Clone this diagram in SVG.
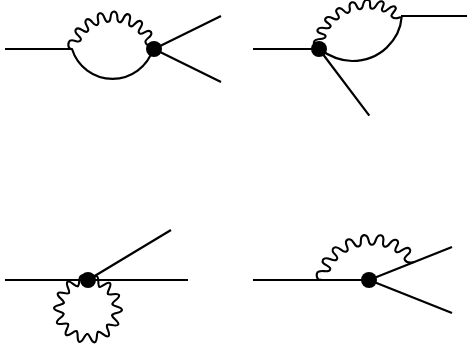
<svg xmlns="http://www.w3.org/2000/svg" width="467" height="351" viewBox="0 0 467 351">
<style>
.l{fill:none;stroke:#000;stroke-width:2.2;vector-effect:non-scaling-stroke}
.w{fill:none;stroke:#000;stroke-width:2.1;stroke-linecap:round;vector-effect:non-scaling-stroke}
.v{fill:#000}
</style>
<defs>
<path id="wave" class="w" d="M72 49C70 49 67.2 47.5 68.8 42.1C71.1 36.9 78.7 44.3 80.6 40.3C83 36.5 72.6 34.1 75.9 29.4C79.6 25.1 84.5 34.5 87.6 31.3C91 28.5 82 22.9 86.5 19.5C91.4 16.6 93.2 27 97.1 24.9C101.2 23.3 94.3 15.2 99.7 13.3C105.2 12.1 103.7 22.6 108 21.8C112.5 21.5 108.5 11.7 114.1 11.5C119.8 12.1 115.1 21.6 119.5 22.2C123.8 23.3 123 12.7 128.4 14.3C133.6 16.6 126.2 24.2 130.2 26.1C134 28.5 136.4 18.1 141.1 21.4C145.4 25.1 136 30 139.2 33.1C142 36.5 147.6 27.5 151 32C153.9 36.9 143.5 38.7 145.6 42.6C147.2 46.7 151 46 152.5 46"/>
<path id="ring" class="w" d="M-2.8 -24.84C-.19 -25 .26 -34 3.81 -33.79C7.32 -33.2 5.75 -24.33 8.26 -23.6"/>
</defs>
<rect width="467" height="351" fill="#fff"/>
<g id="connectors">
<path class="l" d="M5 49H72M72 49A42.4 42.4 0 0 0 153 49M154 49L221 16M154 49L221 82"/>
<use href="#wave"/>
<path class="l" d="M253 49H319M319 49C335 60 345 61 352 61C380 61 400 40 401.7 16.7M401 16H467M319 49L369.3 115.7"/>
<use href="#wave" transform="translate(359.5 32) rotate(-18.2) scale(1.07 .85) translate(-112.25 -47.5)"/>
<path class="l" d="M5 280H188M88 280L171 230"/>
<g transform="translate(88 309)">
<use href="#ring" transform="rotate(8)"/>
<use href="#ring" transform="rotate(33.71)"/>
<use href="#ring" transform="rotate(59.43)"/>
<use href="#ring" transform="rotate(85.14)"/>
<use href="#ring" transform="rotate(110.86)"/>
<use href="#ring" transform="rotate(136.57)"/>
<use href="#ring" transform="rotate(162.29)"/>
<use href="#ring" transform="rotate(188)"/>
<use href="#ring" transform="rotate(213.71)"/>
<use href="#ring" transform="rotate(239.43)"/>
<use href="#ring" transform="rotate(265.14)"/>
<use href="#ring" transform="rotate(290.86)"/>
<use href="#ring" transform="rotate(316.57)"/>
<use href="#ring" transform="rotate(342.29)"/>
</g>
<path class="l" d="M253 280H369M369 280L452 247M369 280L452 313"/>
<use href="#wave" transform="translate(367.5 271) rotate(-9) scale(1.16 1) translate(-112.25 -47.5)"/>
</g>
<g id="vertex-1"><circle class="v" cx="154" cy="49" r="8"/></g>
<g id="vertex-2"><circle class="v" cx="319" cy="49" r="8"/></g>
<g id="vertex-3"><circle class="v" cx="88" cy="280" r="8"/></g>
<g id="vertex-4"><circle class="v" cx="369" cy="280" r="8"/></g>
</svg>
